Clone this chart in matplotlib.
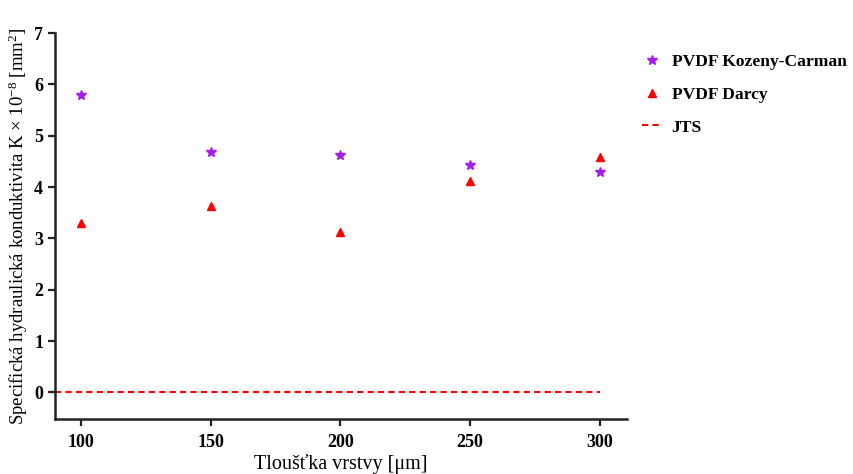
import matplotlib.pyplot as plt

plt.rcParams['font.family'] = ['Liberation Serif', 'DejaVu Serif']
plt.rcParams['mathtext.fontset'] = 'custom'
plt.rcParams['mathtext.rm'] = 'Liberation Serif'
plt.rcParams['mathtext.it'] = 'Liberation Serif:italic'

# tloušťka vrstvy [um]
tloustka = [100, 150, 200, 250, 300]
kozeny_carman = [5.79, 4.68, 4.62, 4.44, 4.29]
darcy = [3.31, 3.63, 3.12, 4.12, 4.59]
jts = [0, 0, 0, 0, 0]

fig = plt.figure(figsize=(8.54, 4.74), dpi=100)
ax = fig.add_axes([0.0644, 0.116, 0.67, 0.814])

ax.plot(tloustka, kozeny_carman, linestyle='none', marker='*', color='#a51cf0',
        markersize=7, label='PVDF Kozeny-Carman')
ax.plot(tloustka, darcy, linestyle='none', marker='^', color='#ff0000',
        markersize=6, label='PVDF Darcy')
ax.plot([90] + tloustka[1:], jts, linestyle=(0, (3, 2)), color='#ff0000',
        linewidth=1.5, label='JTS')

ax.set_xlim(90, 310.5)
ax.set_ylim(-0.52, 7)
ax.set_xticks(tloustka)
ax.set_yticks(range(0, 8))

for s in ['top', 'right']:
    ax.spines[s].set_visible(False)
for s in ['left', 'bottom']:
    ax.spines[s].set_linewidth(1.8)
    ax.spines[s].set_color('#222222')
ax.tick_params(width=1.6, length=5, color='#222222', labelsize=13)
for lab in ax.get_xticklabels() + ax.get_yticklabels():
    lab.set_fontweight('bold')
ax.xaxis.set_tick_params(pad=6)

ax.set_xlabel('Tloušťka vrstvy [μm]', fontsize=14.5, labelpad=2)
ax.set_ylabel('Specifická hydraulická konduktivita K × 10$^{\\mathrm{-8}}$ [mm$^{\\mathrm{2}}$]',
              fontsize=13.5, labelpad=3)

leg = ax.legend(loc='upper left', bbox_to_anchor=(0.998, 0.988), frameon=False,
                prop={'weight': 'bold', 'size': 12.6}, handlelength=1.2,
                labelspacing=0.95, handletextpad=0.5)

fig.savefig('out.png', dpi=100)
